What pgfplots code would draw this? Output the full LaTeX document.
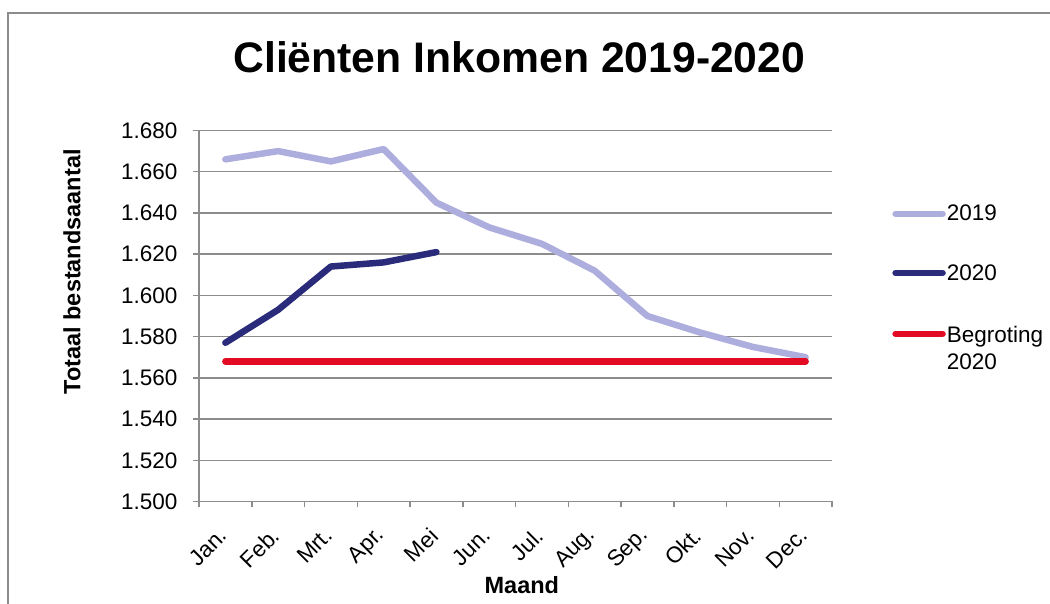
\documentclass[border=0pt]{standalone}
\usepackage{pgfplots}
\pgfplotsset{compat=1.18}
\usepackage{fontspec}
\setmainfont{Liberation Sans}
\definecolor{c2019}{RGB}{174,174,222}
\definecolor{c2020}{RGB}{43,43,123}
\definecolor{cbeg}{RGB}{227,10,35}
\definecolor{gridgray}{RGB}{140,140,140}
\begin{document}
\begin{tikzpicture}
\useasboundingbox (0pt,0pt) rectangle (1050pt,604pt);
\draw[color=gridgray, line width=2pt] (8pt,0pt) -- (8pt,590.5pt) -- (1050pt,590.5pt);
\begin{axis}[
  at={(199pt,102.5pt)}, anchor=south west,
  scale only axis, width=633pt, height=371pt,
  xmin=-0.5, xmax=11.5, ymin=1500, ymax=1680,
  xtick={0,...,11},
  xticklabels={Jan.,Feb.,Mrt.,Apr.,Mei,Jun.,Jul.,Aug.,Sep.,Okt.,Nov.,Dec.},
  minor xtick={-0.5,0.5,...,11.5},
  ytick={1500,1520,...,1680},
  ymajorgrids,
  grid style={draw=gridgray, line width=1.5pt},
  axis lines=left,
  axis line style={-, draw=gridgray, line width=1.5pt},
  tick align=outside,
  major tick length=6pt, minor tick length=6pt,
  major x tick style={draw=none},
  minor x tick style={draw=gridgray, line width=1.5pt},
  major y tick style={draw=gridgray, line width=1.5pt},
  /pgf/number format/assume math mode=true,
  yticklabel style={/pgf/number format/fixed, /pgf/number format/precision=0, /pgf/number format/1000 sep={.}, xshift=-12pt},
  tick label style={font=\fontsize{22.5}{27}\selectfont},
  x tick label style={xshift=0pt, yshift=-22pt, rotate=45, anchor=east},
  title={Cliënten Inkomen 2019-2020},
  title style={at={(axis description cs:0.506,1.181)}, anchor=center, font=\bfseries\fontsize{42.7}{50}\selectfont},
  xlabel={Maand},
  xlabel style={at={(axis description cs:0.510,-0.226)}, anchor=center, font=\bfseries\fontsize{23.5}{28}\selectfont},
  ylabel={Totaal bestandsaantal},
  ylabel style={at={(axis description cs:-0.2006,0.619)}, anchor=center, rotate=0, font=\bfseries\fontsize{23.5}{28}\selectfont},
  legend style={draw=none, fill=none, at={(axis description cs:1.095,0.802)}, anchor=north west,
    font=\fontsize{22.5}{27}\selectfont, row sep=40pt, inner sep=0pt,
    nodes={inner sep=1pt}},
  legend cell align=left,
  legend image code/.code={\draw[#1, line cap=round] (3pt,0pt) -- (50pt,0pt);},
]
\addplot[c2019, line width=6.5pt, line join=round, line cap=round] coordinates {
(0,1666) (1,1670) (2,1665) (3,1671) (4,1645) (5,1633) (6,1625) (7,1612) (8,1590) (9,1582) (10,1575) (11,1570)};
\addlegendentry{2019}
\addplot[c2020, line width=6.5pt, line join=round, line cap=round] coordinates {
(0,1577) (1,1593) (2,1614) (3,1616) (4,1621)};
\addlegendentry{2020}
\addplot[cbeg, line width=6.5pt, line join=round, line cap=round] coordinates {
(0,1568) (1,1568) (2,1568) (3,1568) (4,1568) (5,1568) (6,1568) (7,1568) (8,1568) (9,1568) (10,1568) (11,1568)};
\addlegendentry{\begin{tabular}[t]{@{}l@{}}Begroting\\2020\end{tabular}}
\end{axis}
\end{tikzpicture}
\end{document}
